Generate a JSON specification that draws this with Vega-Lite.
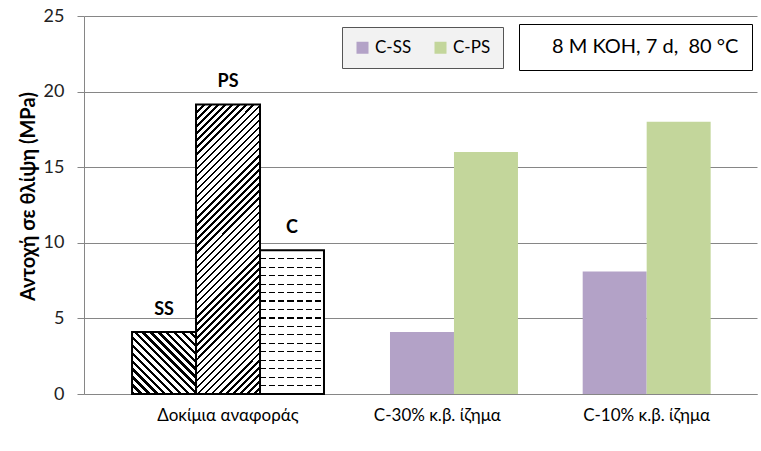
{
  "$schema": "https://vega.github.io/schema/vega-lite/v6.json",
  "width": 673,
  "height": 378,
  "autosize": "none",
  "padding": {"left": 84, "top": 16, "right": 4, "bottom": 57},
  "background": "white",
  "config": {"view": {"stroke": null}, "font": "Lato, 'Open Sans', sans-serif"},
  "data": {"values": [
    {"group": "Δοκίμια αναφοράς", "series": "SS", "value": 4.1},
    {"group": "Δοκίμια αναφοράς", "series": "PS", "value": 19.15},
    {"group": "Δοκίμια αναφοράς", "series": "C", "value": 9.5},
    {"group": "C-30% κ.β. ίζημα", "series": "C-SS", "value": 4.1},
    {"group": "C-30% κ.β. ίζημα", "series": "C-PS", "value": 16.0},
    {"group": "C-10% κ.β. ίζημα", "series": "C-SS", "value": 8.1},
    {"group": "C-10% κ.β. ίζημα", "series": "C-PS", "value": 18.0}
  ]},
  "encoding": {
    "x": {
      "field": "group", "type": "nominal", "title": null,
      "scale": {"domain": ["Δοκίμια αναφοράς", "C-30% κ.β. ίζημα", "C-10% κ.β. ίζημα"], "paddingInner": 0.083, "paddingOuter": 0.149, "align": 0.77},
      "axis": {"labelAngle": 0, "ticks": false, "domain": true, "domainColor": "#868686", "labelFontSize": 17, "labelColor": "#000", "labelPadding": 13, "labelFont": "Lato, 'Open Sans', sans-serif"}
    },
    "y": {
      "field": "value", "type": "quantitative", "title": "Αντοχή σε θλίψη (MPa)",
      "scale": {"domain": [0, 25], "nice": false},
      "axis": {"values": [0, 5, 10, 15, 20, 25], "grid": true, "gridColor": "#868686", "gridWidth": 1, "domain": true, "domainColor": "#868686", "tickColor": "#868686", "tickSize": 7, "labelFontSize": 18, "labelColor": "#222", "labelPadding": 13, "titleFontSize": 20, "titleFontWeight": "bold", "titleColor": "#000", "titlePadding": 5, "titleY": 180, "titleFont": "Lato, 'Open Sans', sans-serif"}
    }
  },
  "layer": [
    {
      "transform": [{"filter": {"field": "series", "oneOf": ["SS", "PS", "C"]}}],
      "encoding": {"xOffset": {"field": "series", "type": "nominal", "scale": {"domain": ["SS", "PS", "C"], "paddingInner": 0, "paddingOuter": 0}}},
      "layer": [
        {
          "transform": [{"filter": {"field": "series", "equal": "SS"}}],
          "mark": {"type": "bar", "fill": {"gradient": "linear", "x1": 0, "y1": 1, "x2": 1.016, "y2": 0.016, "stops": [
            {"offset": 0, "color": "#000"}, {"offset": 0.027, "color": "#000"}, {"offset": 0.027, "color": "#fff"}, {"offset": 0.0625, "color": "#fff"},
            {"offset": 0.0625, "color": "#000"}, {"offset": 0.0895, "color": "#000"}, {"offset": 0.0895, "color": "#fff"}, {"offset": 0.125, "color": "#fff"},
            {"offset": 0.125, "color": "#000"}, {"offset": 0.152, "color": "#000"}, {"offset": 0.152, "color": "#fff"}, {"offset": 0.1875, "color": "#fff"},
            {"offset": 0.1875, "color": "#000"}, {"offset": 0.2145, "color": "#000"}, {"offset": 0.2145, "color": "#fff"}, {"offset": 0.25, "color": "#fff"},
            {"offset": 0.25, "color": "#000"}, {"offset": 0.277, "color": "#000"}, {"offset": 0.277, "color": "#fff"}, {"offset": 0.3125, "color": "#fff"},
            {"offset": 0.3125, "color": "#000"}, {"offset": 0.3395, "color": "#000"}, {"offset": 0.3395, "color": "#fff"}, {"offset": 0.375, "color": "#fff"},
            {"offset": 0.375, "color": "#000"}, {"offset": 0.402, "color": "#000"}, {"offset": 0.402, "color": "#fff"}, {"offset": 0.4375, "color": "#fff"},
            {"offset": 0.4375, "color": "#000"}, {"offset": 0.4645, "color": "#000"}, {"offset": 0.4645, "color": "#fff"}, {"offset": 0.5, "color": "#fff"},
            {"offset": 0.5, "color": "#000"}, {"offset": 0.527, "color": "#000"}, {"offset": 0.527, "color": "#fff"}, {"offset": 0.5625, "color": "#fff"},
            {"offset": 0.5625, "color": "#000"}, {"offset": 0.5895, "color": "#000"}, {"offset": 0.5895, "color": "#fff"}, {"offset": 0.625, "color": "#fff"},
            {"offset": 0.625, "color": "#000"}, {"offset": 0.652, "color": "#000"}, {"offset": 0.652, "color": "#fff"}, {"offset": 0.6875, "color": "#fff"},
            {"offset": 0.6875, "color": "#000"}, {"offset": 0.7145, "color": "#000"}, {"offset": 0.7145, "color": "#fff"}, {"offset": 0.75, "color": "#fff"},
            {"offset": 0.75, "color": "#000"}, {"offset": 0.777, "color": "#000"}, {"offset": 0.777, "color": "#fff"}, {"offset": 0.8125, "color": "#fff"},
            {"offset": 0.8125, "color": "#000"}, {"offset": 0.8395, "color": "#000"}, {"offset": 0.8395, "color": "#fff"}, {"offset": 0.875, "color": "#fff"},
            {"offset": 0.875, "color": "#000"}, {"offset": 0.902, "color": "#000"}, {"offset": 0.902, "color": "#fff"}, {"offset": 0.9375, "color": "#fff"},
            {"offset": 0.9375, "color": "#000"}, {"offset": 0.9645, "color": "#000"}, {"offset": 0.9645, "color": "#fff"}, {"offset": 1, "color": "#fff"}
          ]}}
        },
        {
          "transform": [{"filter": {"field": "series", "equal": "PS"}}],
          "mark": {"type": "bar", "fill": {"gradient": "linear", "x1": 0, "y1": 0, "x2": 0.2574, "y2": 1.164, "stops": [
            {"offset": 0, "color": "#000"}, {"offset": 0.007, "color": "#000"}, {"offset": 0.007, "color": "#fff"}, {"offset": 0.02, "color": "#fff"},
            {"offset": 0.02, "color": "#000"}, {"offset": 0.027, "color": "#000"}, {"offset": 0.027, "color": "#fff"}, {"offset": 0.04, "color": "#fff"},
            {"offset": 0.04, "color": "#000"}, {"offset": 0.047, "color": "#000"}, {"offset": 0.047, "color": "#fff"}, {"offset": 0.06, "color": "#fff"},
            {"offset": 0.06, "color": "#000"}, {"offset": 0.067, "color": "#000"}, {"offset": 0.067, "color": "#fff"}, {"offset": 0.08, "color": "#fff"},
            {"offset": 0.08, "color": "#000"}, {"offset": 0.087, "color": "#000"}, {"offset": 0.087, "color": "#fff"}, {"offset": 0.1, "color": "#fff"},
            {"offset": 0.1, "color": "#000"}, {"offset": 0.107, "color": "#000"}, {"offset": 0.107, "color": "#fff"}, {"offset": 0.12, "color": "#fff"},
            {"offset": 0.12, "color": "#000"}, {"offset": 0.127, "color": "#000"}, {"offset": 0.127, "color": "#fff"}, {"offset": 0.14, "color": "#fff"},
            {"offset": 0.14, "color": "#000"}, {"offset": 0.147, "color": "#000"}, {"offset": 0.147, "color": "#fff"}, {"offset": 0.16, "color": "#fff"},
            {"offset": 0.16, "color": "#000"}, {"offset": 0.167, "color": "#000"}, {"offset": 0.167, "color": "#fff"}, {"offset": 0.18, "color": "#fff"},
            {"offset": 0.18, "color": "#000"}, {"offset": 0.187, "color": "#000"}, {"offset": 0.187, "color": "#fff"}, {"offset": 0.2, "color": "#fff"},
            {"offset": 0.2, "color": "#000"}, {"offset": 0.207, "color": "#000"}, {"offset": 0.207, "color": "#fff"}, {"offset": 0.22, "color": "#fff"},
            {"offset": 0.22, "color": "#000"}, {"offset": 0.227, "color": "#000"}, {"offset": 0.227, "color": "#fff"}, {"offset": 0.24, "color": "#fff"},
            {"offset": 0.24, "color": "#000"}, {"offset": 0.247, "color": "#000"}, {"offset": 0.247, "color": "#fff"}, {"offset": 0.26, "color": "#fff"},
            {"offset": 0.26, "color": "#000"}, {"offset": 0.267, "color": "#000"}, {"offset": 0.267, "color": "#fff"}, {"offset": 0.28, "color": "#fff"},
            {"offset": 0.28, "color": "#000"}, {"offset": 0.287, "color": "#000"}, {"offset": 0.287, "color": "#fff"}, {"offset": 0.3, "color": "#fff"},
            {"offset": 0.3, "color": "#000"}, {"offset": 0.307, "color": "#000"}, {"offset": 0.307, "color": "#fff"}, {"offset": 0.32, "color": "#fff"},
            {"offset": 0.32, "color": "#000"}, {"offset": 0.327, "color": "#000"}, {"offset": 0.327, "color": "#fff"}, {"offset": 0.34, "color": "#fff"},
            {"offset": 0.34, "color": "#000"}, {"offset": 0.347, "color": "#000"}, {"offset": 0.347, "color": "#fff"}, {"offset": 0.36, "color": "#fff"},
            {"offset": 0.36, "color": "#000"}, {"offset": 0.367, "color": "#000"}, {"offset": 0.367, "color": "#fff"}, {"offset": 0.38, "color": "#fff"},
            {"offset": 0.38, "color": "#000"}, {"offset": 0.387, "color": "#000"}, {"offset": 0.387, "color": "#fff"}, {"offset": 0.4, "color": "#fff"},
            {"offset": 0.4, "color": "#000"}, {"offset": 0.407, "color": "#000"}, {"offset": 0.407, "color": "#fff"}, {"offset": 0.42, "color": "#fff"},
            {"offset": 0.42, "color": "#000"}, {"offset": 0.427, "color": "#000"}, {"offset": 0.427, "color": "#fff"}, {"offset": 0.44, "color": "#fff"},
            {"offset": 0.44, "color": "#000"}, {"offset": 0.447, "color": "#000"}, {"offset": 0.447, "color": "#fff"}, {"offset": 0.46, "color": "#fff"},
            {"offset": 0.46, "color": "#000"}, {"offset": 0.467, "color": "#000"}, {"offset": 0.467, "color": "#fff"}, {"offset": 0.48, "color": "#fff"},
            {"offset": 0.48, "color": "#000"}, {"offset": 0.487, "color": "#000"}, {"offset": 0.487, "color": "#fff"}, {"offset": 0.5, "color": "#fff"},
            {"offset": 0.5, "color": "#000"}, {"offset": 0.507, "color": "#000"}, {"offset": 0.507, "color": "#fff"}, {"offset": 0.52, "color": "#fff"},
            {"offset": 0.52, "color": "#000"}, {"offset": 0.527, "color": "#000"}, {"offset": 0.527, "color": "#fff"}, {"offset": 0.54, "color": "#fff"},
            {"offset": 0.54, "color": "#000"}, {"offset": 0.547, "color": "#000"}, {"offset": 0.547, "color": "#fff"}, {"offset": 0.56, "color": "#fff"},
            {"offset": 0.56, "color": "#000"}, {"offset": 0.567, "color": "#000"}, {"offset": 0.567, "color": "#fff"}, {"offset": 0.58, "color": "#fff"},
            {"offset": 0.58, "color": "#000"}, {"offset": 0.587, "color": "#000"}, {"offset": 0.587, "color": "#fff"}, {"offset": 0.6, "color": "#fff"},
            {"offset": 0.6, "color": "#000"}, {"offset": 0.607, "color": "#000"}, {"offset": 0.607, "color": "#fff"}, {"offset": 0.62, "color": "#fff"},
            {"offset": 0.62, "color": "#000"}, {"offset": 0.627, "color": "#000"}, {"offset": 0.627, "color": "#fff"}, {"offset": 0.64, "color": "#fff"},
            {"offset": 0.64, "color": "#000"}, {"offset": 0.647, "color": "#000"}, {"offset": 0.647, "color": "#fff"}, {"offset": 0.66, "color": "#fff"},
            {"offset": 0.66, "color": "#000"}, {"offset": 0.667, "color": "#000"}, {"offset": 0.667, "color": "#fff"}, {"offset": 0.68, "color": "#fff"},
            {"offset": 0.68, "color": "#000"}, {"offset": 0.687, "color": "#000"}, {"offset": 0.687, "color": "#fff"}, {"offset": 0.7, "color": "#fff"},
            {"offset": 0.7, "color": "#000"}, {"offset": 0.707, "color": "#000"}, {"offset": 0.707, "color": "#fff"}, {"offset": 0.72, "color": "#fff"},
            {"offset": 0.72, "color": "#000"}, {"offset": 0.727, "color": "#000"}, {"offset": 0.727, "color": "#fff"}, {"offset": 0.74, "color": "#fff"},
            {"offset": 0.74, "color": "#000"}, {"offset": 0.747, "color": "#000"}, {"offset": 0.747, "color": "#fff"}, {"offset": 0.76, "color": "#fff"},
            {"offset": 0.76, "color": "#000"}, {"offset": 0.767, "color": "#000"}, {"offset": 0.767, "color": "#fff"}, {"offset": 0.78, "color": "#fff"},
            {"offset": 0.78, "color": "#000"}, {"offset": 0.787, "color": "#000"}, {"offset": 0.787, "color": "#fff"}, {"offset": 0.8, "color": "#fff"},
            {"offset": 0.8, "color": "#000"}, {"offset": 0.807, "color": "#000"}, {"offset": 0.807, "color": "#fff"}, {"offset": 0.82, "color": "#fff"},
            {"offset": 0.82, "color": "#000"}, {"offset": 0.827, "color": "#000"}, {"offset": 0.827, "color": "#fff"}, {"offset": 0.84, "color": "#fff"},
            {"offset": 0.84, "color": "#000"}, {"offset": 0.847, "color": "#000"}, {"offset": 0.847, "color": "#fff"}, {"offset": 0.86, "color": "#fff"},
            {"offset": 0.86, "color": "#000"}, {"offset": 0.867, "color": "#000"}, {"offset": 0.867, "color": "#fff"}, {"offset": 0.88, "color": "#fff"},
            {"offset": 0.88, "color": "#000"}, {"offset": 0.887, "color": "#000"}, {"offset": 0.887, "color": "#fff"}, {"offset": 0.9, "color": "#fff"},
            {"offset": 0.9, "color": "#000"}, {"offset": 0.907, "color": "#000"}, {"offset": 0.907, "color": "#fff"}, {"offset": 0.92, "color": "#fff"},
            {"offset": 0.92, "color": "#000"}, {"offset": 0.927, "color": "#000"}, {"offset": 0.927, "color": "#fff"}, {"offset": 0.94, "color": "#fff"},
            {"offset": 0.94, "color": "#000"}, {"offset": 0.947, "color": "#000"}, {"offset": 0.947, "color": "#fff"}, {"offset": 0.96, "color": "#fff"},
            {"offset": 0.96, "color": "#000"}, {"offset": 0.967, "color": "#000"}, {"offset": 0.967, "color": "#fff"}, {"offset": 0.98, "color": "#fff"},
            {"offset": 0.98, "color": "#000"}, {"offset": 0.987, "color": "#000"}, {"offset": 0.987, "color": "#fff"}, {"offset": 1, "color": "#fff"}
          ]}}
        },
        {
          "transform": [{"filter": {"field": "series", "equal": "C"}}],
          "mark": {"type": "bar", "fill": {"gradient": "linear", "x1": 0, "y1": 0, "x2": 0, "y2": 1, "stops": [
            {"offset": 0, "color": "#fff"},
            {"offset": 0.0548, "color": "#fff"}, {"offset": 0.0548, "color": "#000"}, {"offset": 0.0628, "color": "#000"}, {"offset": 0.0628, "color": "#fff"},
            {"offset": 0.1136, "color": "#fff"}, {"offset": 0.1136, "color": "#000"}, {"offset": 0.1216, "color": "#000"}, {"offset": 0.1216, "color": "#fff"},
            {"offset": 0.1725, "color": "#fff"}, {"offset": 0.1725, "color": "#000"}, {"offset": 0.1805, "color": "#000"}, {"offset": 0.1805, "color": "#fff"},
            {"offset": 0.2313, "color": "#fff"}, {"offset": 0.2313, "color": "#000"}, {"offset": 0.2393, "color": "#000"}, {"offset": 0.2393, "color": "#fff"},
            {"offset": 0.2901, "color": "#fff"}, {"offset": 0.2901, "color": "#000"}, {"offset": 0.2981, "color": "#000"}, {"offset": 0.2981, "color": "#fff"},
            {"offset": 0.3489, "color": "#fff"}, {"offset": 0.3489, "color": "#000"}, {"offset": 0.3569, "color": "#000"}, {"offset": 0.3569, "color": "#fff"},
            {"offset": 0.4078, "color": "#fff"}, {"offset": 0.4078, "color": "#000"}, {"offset": 0.4158, "color": "#000"}, {"offset": 0.4158, "color": "#fff"},
            {"offset": 0.4666, "color": "#fff"}, {"offset": 0.4666, "color": "#000"}, {"offset": 0.4746, "color": "#000"}, {"offset": 0.4746, "color": "#fff"},
            {"offset": 0.5254, "color": "#fff"}, {"offset": 0.5254, "color": "#000"}, {"offset": 0.5334, "color": "#000"}, {"offset": 0.5334, "color": "#fff"},
            {"offset": 0.5842, "color": "#fff"}, {"offset": 0.5842, "color": "#000"}, {"offset": 0.5922, "color": "#000"}, {"offset": 0.5922, "color": "#fff"},
            {"offset": 0.6431, "color": "#fff"}, {"offset": 0.6431, "color": "#000"}, {"offset": 0.6511, "color": "#000"}, {"offset": 0.6511, "color": "#fff"},
            {"offset": 0.7019, "color": "#fff"}, {"offset": 0.7019, "color": "#000"}, {"offset": 0.7099, "color": "#000"}, {"offset": 0.7099, "color": "#fff"},
            {"offset": 0.7607, "color": "#fff"}, {"offset": 0.7607, "color": "#000"}, {"offset": 0.7687, "color": "#000"}, {"offset": 0.7687, "color": "#fff"},
            {"offset": 0.8195, "color": "#fff"}, {"offset": 0.8195, "color": "#000"}, {"offset": 0.8275, "color": "#000"}, {"offset": 0.8275, "color": "#fff"},
            {"offset": 0.8784, "color": "#fff"}, {"offset": 0.8784, "color": "#000"}, {"offset": 0.8864, "color": "#000"}, {"offset": 0.8864, "color": "#fff"},
            {"offset": 0.9372, "color": "#fff"}, {"offset": 0.9372, "color": "#000"}, {"offset": 0.9452, "color": "#000"}, {"offset": 0.9452, "color": "#fff"},
            {"offset": 1, "color": "#fff"}
          ]}}
        },
        {
          "transform": [{"filter": {"field": "series", "equal": "C"}}],
          "mark": {"type": "bar", "fill": {"gradient": "linear", "x1": 0, "y1": 0, "x2": 1, "y2": 0, "stops": [
            {"offset": 0, "color": "rgba(255,255,255,0)"},
            {"offset": 0.096, "color": "rgba(255,255,255,0)"}, {"offset": 0.096, "color": "#fff"}, {"offset": 0.1429, "color": "#fff"}, {"offset": 0.1429, "color": "rgba(255,255,255,0)"},
            {"offset": 0.2389, "color": "rgba(255,255,255,0)"}, {"offset": 0.2389, "color": "#fff"}, {"offset": 0.2857, "color": "#fff"}, {"offset": 0.2857, "color": "rgba(255,255,255,0)"},
            {"offset": 0.3817, "color": "rgba(255,255,255,0)"}, {"offset": 0.3817, "color": "#fff"}, {"offset": 0.4286, "color": "#fff"}, {"offset": 0.4286, "color": "rgba(255,255,255,0)"},
            {"offset": 0.5246, "color": "rgba(255,255,255,0)"}, {"offset": 0.5246, "color": "#fff"}, {"offset": 0.5714, "color": "#fff"}, {"offset": 0.5714, "color": "rgba(255,255,255,0)"},
            {"offset": 0.6674, "color": "rgba(255,255,255,0)"}, {"offset": 0.6674, "color": "#fff"}, {"offset": 0.7143, "color": "#fff"}, {"offset": 0.7143, "color": "rgba(255,255,255,0)"},
            {"offset": 0.8103, "color": "rgba(255,255,255,0)"}, {"offset": 0.8103, "color": "#fff"}, {"offset": 0.8571, "color": "#fff"}, {"offset": 0.8571, "color": "rgba(255,255,255,0)"},
            {"offset": 0.9531, "color": "rgba(255,255,255,0)"}, {"offset": 0.9531, "color": "#fff"}, {"offset": 1, "color": "#fff"}
          ]}}
        },
        {
          "mark": {"type": "bar", "fill": null, "stroke": "#000", "strokeWidth": 2}
        },
        {
          "mark": {"type": "text", "align": "center", "baseline": "alphabetic", "dy": -17, "fontSize": 18, "fontWeight": "bold", "color": "#000"},
          "encoding": {"text": {"field": "series", "type": "nominal"}}
        }
      ]
    },
    {
      "transform": [{"filter": {"field": "group", "equal": "C-30% κ.β. ίζημα"}}],
      "mark": {"type": "bar"},
      "encoding": {
        "xOffset": {"field": "series", "type": "nominal", "scale": {"domain": ["C-SS", "C-PS"], "paddingInner": 0, "paddingOuter": 0.5, "align": 0.76}},
        "color": {
          "field": "series", "type": "nominal",
          "scale": {"domain": ["C-SS", "C-PS"], "range": ["#B3A2C7", "#C3D69B"]},
          "legend": {"orient": "none", "legendX": 258, "legendY": 11, "direction": "horizontal", "title": null, "symbolType": "square", "symbolSize": 144, "symbolStrokeWidth": 0, "labelFontSize": 17, "labelColor": "#000", "labelOffset": 4, "columnPadding": 20, "padding": 12, "strokeColor": "#555", "fillColor": "#f2f2f2"}
        }
      }
    },
    {
      "transform": [{"filter": {"field": "group", "equal": "C-10% κ.β. ίζημα"}}],
      "mark": {"type": "bar"},
      "encoding": {
        "xOffset": {"field": "series", "type": "nominal", "scale": {"domain": ["C-SS", "C-PS"], "paddingInner": 0, "paddingOuter": 0.5, "align": 0.5}},
        "color": {"field": "series", "type": "nominal", "scale": {"domain": ["C-SS", "C-PS"], "range": ["#B3A2C7", "#C3D69B"]}}
      }
    },
    {
      "data": {"values": [{"condition": "8 M KOH, 7 d,\u00a0 80 °C"}]},
      "mark": {"type": "point", "opacity": 0},
      "encoding": {
        "x": null, "y": null,
        "shape": {
          "field": "condition", "type": "nominal",
          "legend": {"orient": "none", "legendX": 435, "legendY": 8, "title": null, "symbolSize": 0, "symbolOpacity": 0, "symbolStrokeWidth": 0, "labelOffset": 0, "labelFontSize": 20, "labelColor": "#000", "labelLimit": 400, "padding": 13, "strokeColor": "#000", "fillColor": "#fff",
            "encode": {"legend": {"update": {"strokeWidth": {"value": 2.5}}}}}
        }
      }
    }
  ],
  "resolve": {"scale": {"xOffset": "independent"}}
}
